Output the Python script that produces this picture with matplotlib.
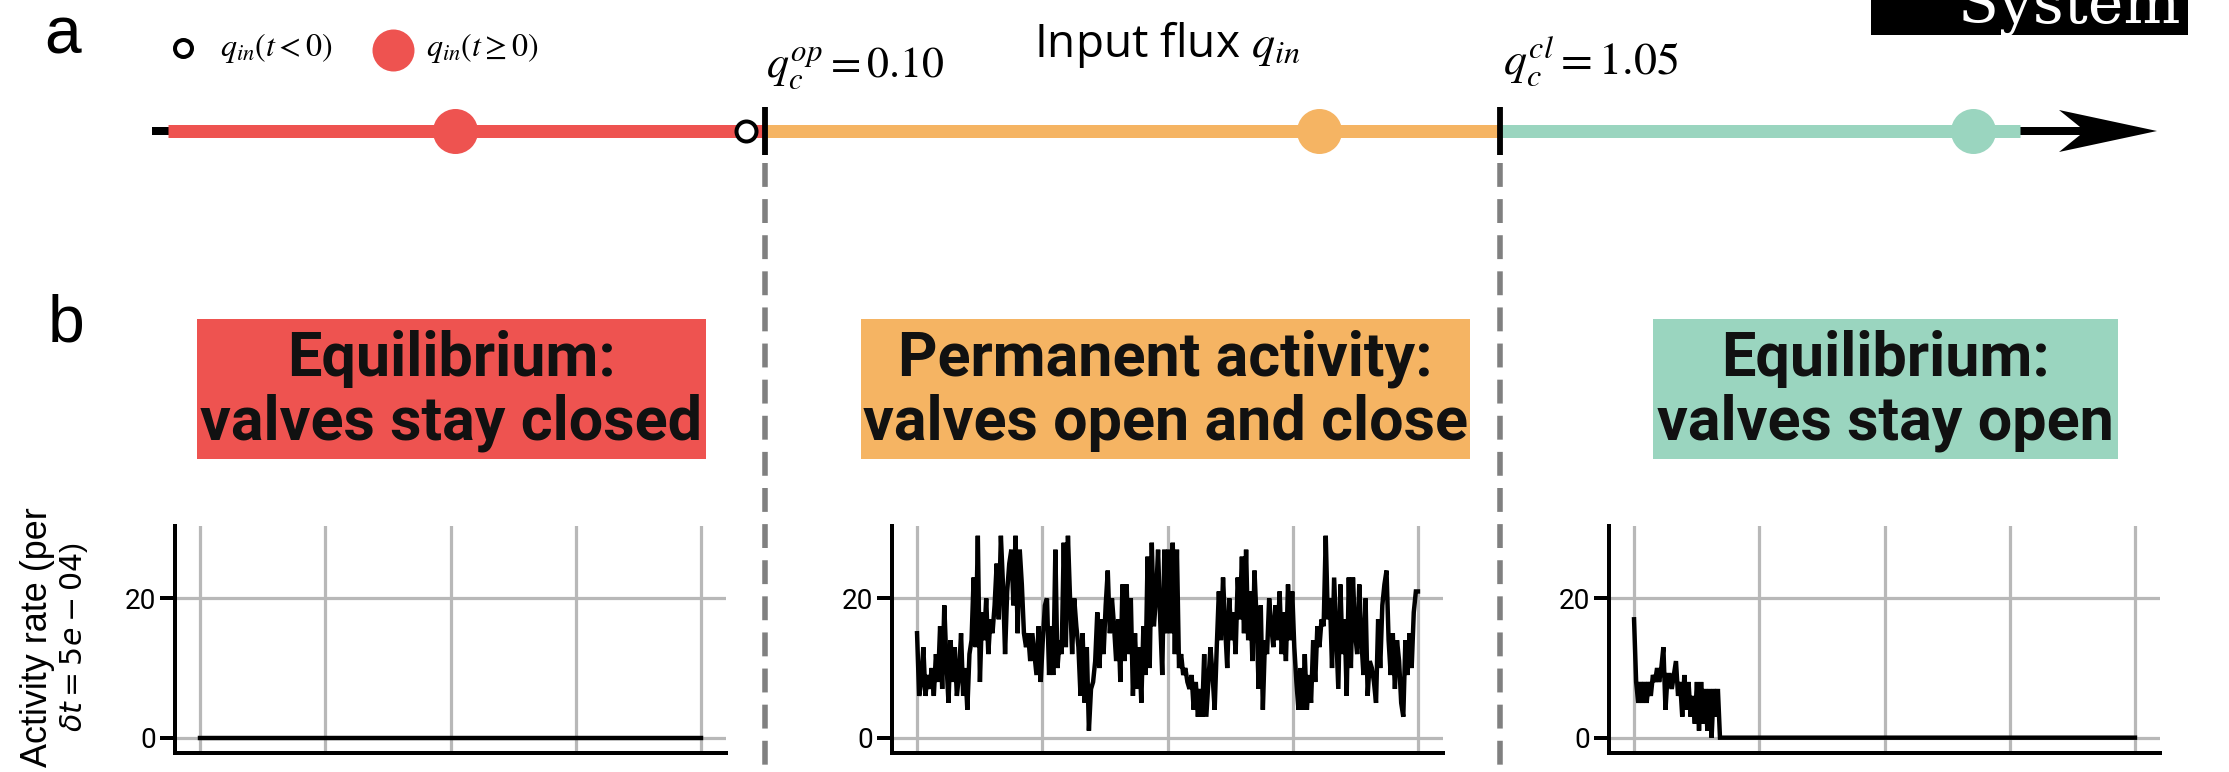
import numpy as np
import matplotlib
matplotlib.use("Agg")
import matplotlib.pyplot as plt
from matplotlib.patches import Rectangle, Polygon

# ---------------- data ----------------
q_op = 0.10
q_cl = 1.05
regime_colors = ["#EE5350", "#F5B463", "#9AD5BF"]
regime_titles = ["Equilibrium:\nvalves stay closed",
                 "Permanent activity:\nvalves open and close",
                 "Equilibrium:\nvalves stay open"]

# activity rate time series (per dt = 5e-04)
act_closed = [0] * 240
act_perm = [
    15, 6, 8, 13, 6, 9, 7, 10, 6, 12, 8, 16, 7, 19, 11, 5, 14, 8, 13, 6,
    9, 15, 6, 10, 4, 12, 14, 23, 13, 29, 8, 18, 14, 20, 12, 17, 15, 19, 25, 17,
    29, 22, 12, 21, 25, 27, 19, 29, 15, 27, 22, 15, 13, 15, 11, 15, 12, 9, 16, 8,
    14, 19, 20, 9, 16, 9, 27, 10, 14, 12, 28, 13, 29, 20, 12, 20, 16, 13, 6, 15,
    5, 13, 1, 7, 8, 11, 18, 10, 17, 12, 19, 24, 15, 20, 16, 11, 17, 8, 22, 11,
    22, 12, 20, 6, 15, 7, 13, 5, 16, 9, 26, 10, 28, 16, 20, 27, 17, 9, 27, 15,
    27, 15, 28, 12, 27, 10, 12, 9, 10, 8, 7, 9, 4, 8, 3, 7, 3, 12, 3, 8,
    13, 9, 4, 13, 21, 14, 23, 16, 10, 20, 14, 18, 12, 23, 17, 26, 15, 27, 14, 21,
    11, 24, 17, 7, 19, 4, 14, 12, 20, 16, 13, 19, 14, 21, 12, 18, 11, 22, 14, 21,
    13, 8, 4, 10, 4, 12, 4, 9, 5, 14, 8, 16, 13, 17, 16, 29, 17, 20, 10, 23,
    15, 7, 22, 12, 17, 6, 23, 10, 23, 15, 12, 22, 14, 9, 20, 6, 11, 10, 8, 5,
    17, 10, 19, 22, 24, 14, 9, 15, 7, 14, 11, 5, 3, 14, 9, 15, 10, 18, 21, 21,
]
act_open_start = [
    17, 8, 5, 8, 5, 8, 5, 8, 6, 9, 8, 10, 8, 10, 13, 4, 9, 9, 7, 9,
    11, 6, 8, 3, 9, 4, 8, 3, 6, 2, 8, 1, 8, 2, 7, 1, 7, 0, 7, 3, 7, 0,
]
act_open = act_open_start + [0] * (240 - len(act_open_start))
series = [act_closed, act_perm, act_open]
yticks = [0, 20]
time_ticks = [0, 1, 2, 3, 4]

# ---------------- layout (pixels of a 2229x772 canvas) ----------------
W, H, DPI = 2229, 772, 100
axis_y = 131
axis_start, arrow_tip = 152, 2157
seg_edges = [168, 765, 1500, 2020]
thresh_x = [765, 1500]
dot_x = [455, 1319, 1973]
open_dot_x = 746
box_x = [(197, 706), (861, 1470), (1653, 2118)]
box_y = (319, 459)
axes_left = [175, 892, 1609]
axes_w = 551
axes_top, axes_bot = 526, 753

PX = 0.72  # points per pixel at dpi 100

fig = plt.figure(figsize=(W / DPI, H / DPI), dpi=DPI)
fig.patch.set_facecolor("white")

ov = fig.add_axes([0, 0, 1, 1])
ov.set_xlim(0, W)
ov.set_ylim(H, 0)
ov.axis("off")

# dashed separators
for tx in thresh_x:
    ov.plot([tx, tx], [163, H], color="#808080", lw=4.0,
            dashes=(4.3, 2.2), solid_capstyle="butt", zorder=1)

# number line
ov.plot([axis_start, 2090], [axis_y, axis_y], color="black", lw=8 * PX,
        solid_capstyle="butt", zorder=2)
ov.add_patch(Polygon([[arrow_tip, axis_y], [2059, axis_y - 21], [2085, axis_y],
                      [2059, axis_y + 21]], closed=True, fc="black", ec="none", zorder=3))
for i in range(3):
    ov.plot([seg_edges[i], seg_edges[i + 1]], [axis_y, axis_y], color=regime_colors[i],
            lw=13 * PX, solid_capstyle="butt", zorder=3)
    ov.plot(dot_x[i], axis_y, "o", ms=45 * PX, color=regime_colors[i], mec="none", zorder=4)
for tx in thresh_x:
    ov.plot([tx, tx], [107, 155], color="black", lw=4.2, solid_capstyle="butt", zorder=5)
ov.plot(open_dot_x, axis_y, "o", ms=20 * PX, mfc="white", mec="black", mew=4 * PX, zorder=6)

# legend
ov.plot(183, 48, "o", ms=17 * PX, mfc="white", mec="black", mew=4 * PX)
ov.text(220, 48, r"$q_{in}(t<0)$", math_fontfamily="stix", fontsize=32 * PX,
        ha="left", va="center")
ov.plot(393, 50, "o", ms=42 * PX, color=regime_colors[0], mec="none")
ov.text(426, 48, r"$q_{in}(t\geq 0)$", math_fontfamily="stix", fontsize=32 * PX,
        ha="left", va="center")

# threshold labels
ov.text(766, 77, r"$q_c^{op} = 0.10$", math_fontfamily="stix", fontsize=44 * PX,
        ha="left", va="baseline")
ov.text(1503, 75, r"$q_c^{cl} = 1.05$", math_fontfamily="stix", fontsize=46 * PX,
        ha="left", va="baseline")
ov.text(1167, 57, r"Input flux $q_{in}$", family=["Open Sans", "DejaVu Sans"],
        math_fontfamily="stix", fontsize=46 * PX, ha="center", va="baseline")

# panel letters
ov.text(44, 53, "a", family=["Liberation Sans", "DejaVu Sans"], fontsize=66 * PX,
        ha="left", va="baseline")
ov.text(48, 341, "b", family=["Liberation Sans", "DejaVu Sans"], fontsize=66 * PX,
        ha="left", va="baseline")

# "System" box (cut at top)
ov.add_patch(Rectangle((1871, -10), 2188 - 1871, 45, fc="black", ec="none", zorder=5))
ov.text(2180, 23, "System", family=["DejaVu Serif"], color="white", fontsize=60 * PX,
        ha="right", va="baseline", zorder=6)

# regime boxes
for i in range(3):
    x0, x1 = box_x[i]
    ov.add_patch(Rectangle((x0, box_y[0]), x1 - x0, box_y[1] - box_y[0],
                           fc=regime_colors[i], ec="none", zorder=2))
    ov.text((x0 + x1) / 2, (box_y[0] + box_y[1]) / 2 + 2, regime_titles[i],
            family=["Roboto", "DejaVu Sans"], weight="bold", fontsize=44,
            ha="center", va="center", linespacing=1.12, color="#111111", zorder=3)

# activity panels
x = np.linspace(time_ticks[0], time_ticks[-1], 240)
for i in range(3):
    ax = fig.add_axes([axes_left[i] / W, 1 - axes_bot / H, axes_w / W,
                       (axes_bot - axes_top) / H])
    ax.patch.set_alpha(0)
    ax.plot(x, series[i], color="black", lw=3.2, solid_joinstyle="miter", zorder=3)
    ax.set_xlim(-0.2, 4.2)
    ax.set_ylim(-2.2, 30.4)
    ax.set_xticks(time_ticks)
    ax.set_xticklabels([])
    ax.set_yticks(yticks)
    ax.tick_params(axis="x", length=0)
    ax.tick_params(axis="y", length=15 * PX, width=4 * PX, pad=4 * PX,
                   labelsize=28 * PX)
    for lab in ax.get_yticklabels():
        lab.set_family(["Liberation Sans Narrow", "Roboto", "DejaVu Sans"])
    ax.grid(True, color="#B8B8B8", lw=3.2 * PX, zorder=0)
    ax.set_axisbelow(True)
    for s in ["top", "right"]:
        ax.spines[s].set_visible(False)
    for s in ["left", "bottom"]:
        ax.spines[s].set_linewidth(4 * PX)
        ax.spines[s].set_color("black")

# y label (two lines, both centred on the panel height)
fig.text(38 / W, 1 - 637 / H, "Activity rate (per",
         family=["Liberation Sans", "DejaVu Sans"], fontsize=36 * PX,
         rotation=90, ha="center", va="center")
fig.text(74 / W, 1 - 637 / H, r"$\delta t = 5e - 04$)",
         family=["Liberation Sans", "DejaVu Sans"], fontsize=30 * PX,
         rotation=90, ha="center", va="center")

fig.savefig("out.png", dpi=DPI)
